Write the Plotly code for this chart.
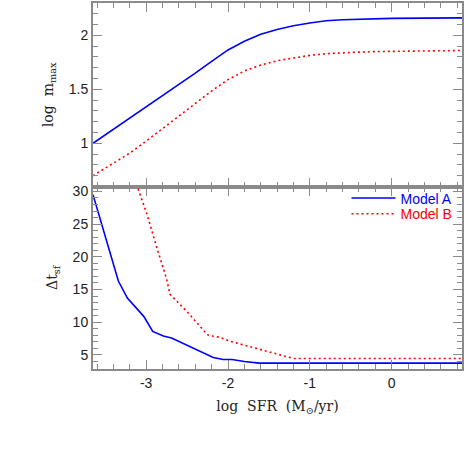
import plotly.graph_objects as go
from plotly.subplots import make_subplots

# top panel: log m_max against log SFR
sfr_top = [-3.65, -3.4, -3.2, -3.0, -2.8, -2.6, -2.4, -2.2, -2.0, -1.8, -1.6,
           -1.4, -1.2, -1.0, -0.8, -0.6, -0.4, -0.2, 0.0, 0.4, 0.86]
mmax_a = [1.00, 1.13, 1.23, 1.335, 1.44, 1.545, 1.65, 1.76, 1.865, 1.945, 2.01,
          2.055, 2.09, 2.115, 2.135, 2.145, 2.15, 2.155, 2.158, 2.16, 2.162]
mmax_b = [0.70, 0.815, 0.91, 1.02, 1.135, 1.25, 1.37, 1.485, 1.59, 1.67, 1.725,
          1.765, 1.79, 1.815, 1.83, 1.84, 1.845, 1.85, 1.853, 1.856, 1.86]

# bottom panel: delta t_sf against log SFR
sfr_a = [-3.65, -3.47, -3.34, -3.23, -3.03, -2.92, -2.79, -2.69, -2.55, -2.38,
         -2.18, -2.06, -1.95, -1.80, -1.62, 0.86]
dt_a = [29.5, 22.0, 16.3, 13.7, 10.9, 8.6, 7.9, 7.6, 6.8, 5.8,
        4.6, 4.3, 4.3, 4.0, 3.75, 3.75]
sfr_b = [-3.20, -2.99, -2.87, -2.75, -2.71, -2.50, -2.28, -2.24, -2.10, -1.98,
         -1.77, -1.57, -1.20, 0.86]
dt_b = [34.0, 26.5, 21.4, 16.6, 14.3, 11.6, 8.5, 8.0, 7.7, 7.1,
        6.4, 5.7, 4.45, 4.45]

x_tick_vals = [-3, -2, -1, 0]
x_tick_text = ['-3', '-2', '-1', '0']

blue = '#0000ff'
red = '#ff0000'
frame = '#8a8a8a'

fig = make_subplots(rows=2, cols=1, shared_xaxes=True, vertical_spacing=0)

fig.add_trace(go.Scatter(x=sfr_top, y=mmax_a, mode='lines', line=dict(color=blue, width=1.6),
                         showlegend=False), row=1, col=1)
fig.add_trace(go.Scatter(x=sfr_top, y=mmax_b, mode='lines', line=dict(color=red, width=1.6, dash='2px,3px'),
                         showlegend=False), row=1, col=1)
# each model gets its own legend box so the two rows sit close like the original
fig.add_trace(go.Scatter(x=sfr_a, y=dt_a, mode='lines', line=dict(color=blue, width=1.6),
                         legend='legend', name='<span style="color:#0000ff">Model A</span>'), row=2, col=1)
fig.add_trace(go.Scatter(x=sfr_b, y=dt_b, mode='lines', line=dict(color=red, width=1.6, dash='2px,3px'),
                         legend='legend2', name='<span style="color:#ff0000">Model B</span>'), row=2, col=1)

axis_style = dict(showline=True, linecolor=frame, linewidth=2, mirror='allticks',
                  ticks='inside', ticklen=9, tickwidth=1, tickcolor=frame,
                  showgrid=False, zeroline=False,
                  tickfont=dict(family='Liberation Sans, Arial', size=14, color='#222'))
title_font = dict(family='DejaVu Serif, Liberation Serif', size=14, color='#222')

fig.update_xaxes(**axis_style, range=[-3.65, 0.86], tickmode='array',
                 tickvals=x_tick_vals, ticktext=x_tick_text,
                 minor=dict(ticks='inside', ticklen=5, tickcolor=frame, dtick=0.2, tick0=0))
fig.update_xaxes(title=dict(text='log  SFR  (M<sub>\u2299</sub>/yr)', font=title_font, standoff=11),
                 row=2, col=1)

fig.update_yaxes(**axis_style, row=1, col=1, range=[0.6, 2.3], dtick=0.5, tick0=0,
                 domain=[0.4986, 1],
                 minor=dict(ticks='inside', ticklen=5, tickcolor=frame, dtick=0.1, tick0=0),
                 title=dict(text='log  m<sub>max</sub>', font=title_font, standoff=12))
fig.update_yaxes(**axis_style, row=2, col=1, range=[2.85, 30.75], dtick=5, tick0=0,
                 domain=[0, 0.4986],
                 minor=dict(ticks='inside', ticklen=5, tickcolor=frame, dtick=1, tick0=0),
                 title=dict(text='\u0394t<sub>sf</sub>', font=title_font, standoff=12))

legend_style = dict(xanchor='left', yanchor='middle', x=0.687,
                    bgcolor='rgba(0,0,0,0)', borderwidth=0,
                    font=dict(family='Liberation Sans, Arial', size=14),
                    itemwidth=44)

fig.update_layout(
    width=464, height=463,
    margin=dict(l=93, r=1, t=0, b=94),
    paper_bgcolor='white', plot_bgcolor='white',
    showlegend=True,
    legend=dict(**legend_style, y=0.466),
    legend2=dict(**legend_style, y=0.423),
)

fig.write_html("out.html", config={'displayModeBar': False},
               post_script="document.body.style.margin='0';")
